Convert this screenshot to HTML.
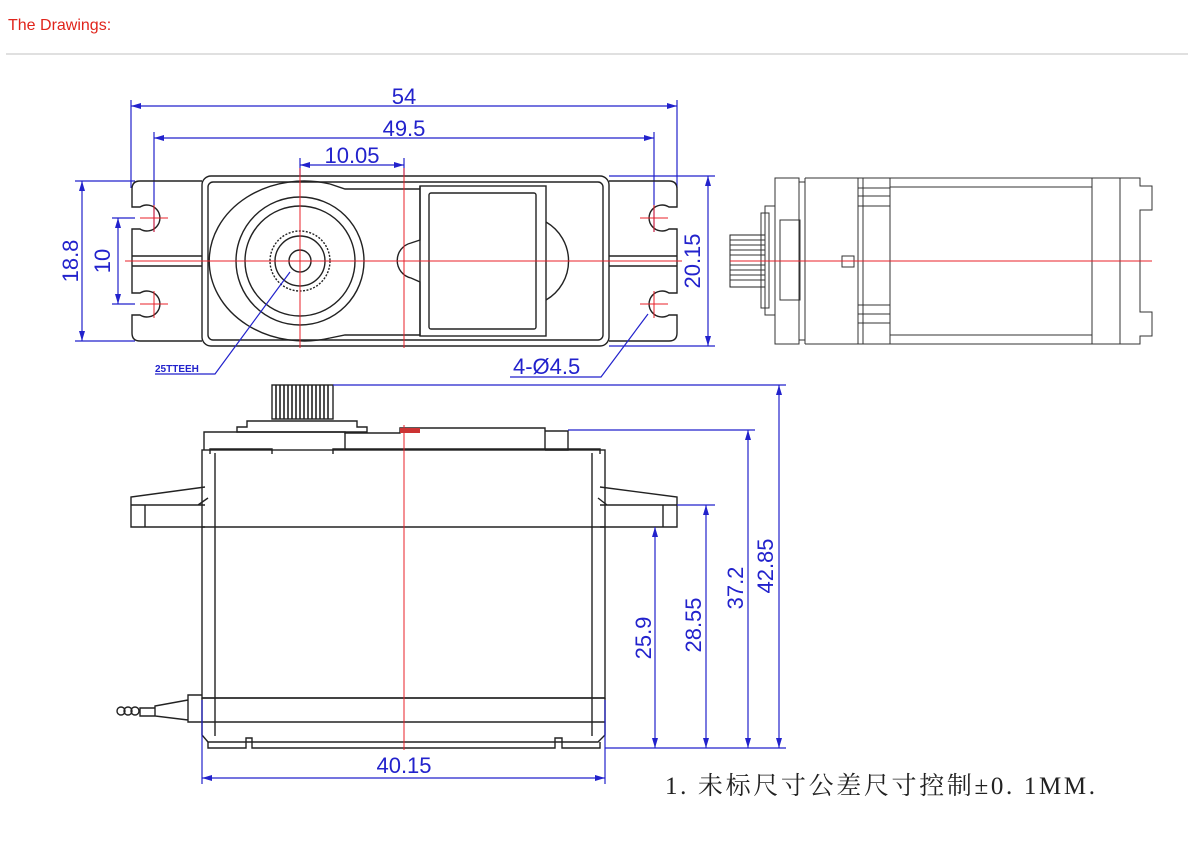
<!DOCTYPE html>
<html><head><meta charset="utf-8"><style>
html,body{margin:0;padding:0;background:#fff;width:1200px;height:846px;overflow:hidden}
svg{position:absolute;left:0;top:0}
.k{fill:none;stroke:#222;stroke-width:1.4}
.kt{fill:none;stroke:#333;stroke-width:1}
.r{fill:none;stroke:#e8202a;stroke-width:1}
.b{fill:none;stroke:#2222cc;stroke-width:1.2}
.bt{fill:#2222cc;font-family:"Liberation Sans",sans-serif;font-size:22px}
</style></head><body>
<svg width="1200" height="846" viewBox="0 0 1200 846">
<defs>
<marker id="a" viewBox="0 0 10 6" refX="10" refY="3" markerWidth="10" markerHeight="6" orient="auto-start-reverse" markerUnits="userSpaceOnUse"><path d="M0,0L10,3L0,6z" fill="#2222cc"/></marker>
</defs>
<text x="8" y="30" fill="#e0241b" font-family="Liberation Sans,sans-serif" font-size="16">The Drawings:</text>
<line x1="6" y1="54" x2="1188" y2="54" stroke="#d6d6d6" stroke-width="1.5"/>

<!-- TOP VIEW dims -->
<line class="b" x1="131" y1="100" x2="131" y2="188"/><line class="b" x1="677" y1="100" x2="677" y2="188"/>
<line class="b" x1="131" y1="106" x2="677" y2="106" marker-start="url(#a)" marker-end="url(#a)"/>
<text class="bt" x="404" y="104" text-anchor="middle">54</text>
<line class="b" x1="154" y1="132" x2="154" y2="232"/><line class="b" x1="654" y1="132" x2="654" y2="232"/>
<line class="b" x1="154" y1="138" x2="654" y2="138" marker-start="url(#a)" marker-end="url(#a)"/>
<text class="bt" x="404" y="136" text-anchor="middle">49.5</text>
<line class="b" x1="300" y1="158" x2="300" y2="176"/><line class="b" x1="404" y1="158" x2="404" y2="176"/>
<line class="b" x1="300" y1="165" x2="404" y2="165" marker-start="url(#a)" marker-end="url(#a)"/>
<text class="bt" x="352" y="163" text-anchor="middle">10.05</text>
<line class="b" x1="75" y1="181" x2="135" y2="181"/><line class="b" x1="75" y1="341" x2="135" y2="341"/>
<line class="b" x1="82" y1="181" x2="82" y2="341" marker-start="url(#a)" marker-end="url(#a)"/>
<text class="bt" transform="translate(78,261) rotate(-90)" text-anchor="middle">18.8</text>
<line class="b" x1="112" y1="218" x2="135" y2="218"/><line class="b" x1="112" y1="304" x2="135" y2="304"/>
<line class="b" x1="118" y1="218" x2="118" y2="304" marker-start="url(#a)" marker-end="url(#a)"/>
<text class="bt" transform="translate(110,261) rotate(-90)" text-anchor="middle" font-size="18">10</text>
<line class="b" x1="609" y1="176" x2="715" y2="176"/><line class="b" x1="609" y1="346" x2="715" y2="346"/>
<line class="b" x1="708" y1="176" x2="708" y2="346" marker-start="url(#a)" marker-end="url(#a)"/>
<text class="bt" transform="translate(700,261) rotate(-90)" text-anchor="middle">20.15</text>

<!-- flanges top view -->
<path class="k" d="M202,181 H140 Q132,181 132,189 V207 H140 A13,13 0 1 1 140,229 H132 V256 H202 M132,256 V266 H202 M132,266 V293 H140 A13,13 0 1 1 140,315 H132 V333 Q132,341 140,341 H202"/>
<path class="k" d="M609,181 H669 Q677,181 677,189 V207 H669 A13,13 0 1 0 669,229 H677 V256 H609 M677,256 V266 H609 M677,266 V293 H669 A13,13 0 1 0 669,315 H677 V333 Q677,341 669,341 H609"/>
<!-- body -->
<rect class="k" x="202" y="176" width="407" height="170" rx="9" stroke-width="2"/>
<rect class="k" x="208" y="182" width="395" height="158" rx="5"/>
<path class="k" stroke-width="1.8" d="M330,184 A95,80 0 1 0 330,338"/>
<path class="k" d="M330,184 L345,189 H420 M330,338 L345,335 H420"/>
<circle class="k" cx="300" cy="261" r="64" stroke-width="1.8"/>
<circle class="k" cx="300" cy="261" r="55" stroke-width="1.8"/>
<circle class="k" cx="300" cy="261" r="30" stroke-width="3" stroke-dasharray="2 1.5"/>
<circle class="k" cx="300" cy="261" r="25"/>
<circle class="k" cx="300" cy="261" r="11"/>
<path class="k" d="M420,186 V240 L411,243 A18,18 0 0 0 411,278 L420,282 V336"/>
<rect class="k" x="420" y="186" width="126" height="150" stroke-width="1.8"/>
<rect class="k" x="429" y="193" width="107" height="136" rx="2"/>
<path class="k" d="M546,222 A45,45 0 0 1 546,300"/>
<!-- red center lines -->
<line class="r" x1="125" y1="261" x2="682" y2="261"/>
<line class="r" x1="300" y1="168" x2="300" y2="348"/>
<line class="r" x1="404" y1="168" x2="404" y2="348"/>
<line class="r" x1="140" y1="218" x2="168" y2="218"/><line class="r" x1="154" y1="205" x2="154" y2="232"/>
<line class="r" x1="140" y1="304" x2="168" y2="304"/><line class="r" x1="154" y1="291" x2="154" y2="318"/>
<line class="r" x1="640" y1="218" x2="668" y2="218"/><line class="r" x1="654" y1="205" x2="654" y2="232"/>
<line class="r" x1="640" y1="304" x2="668" y2="304"/><line class="r" x1="654" y1="291" x2="654" y2="318"/>
<!-- leaders -->
<path class="b" d="M290,272 L215,374 H155"/>
<text x="155" y="372" fill="#2222cc" font-family="Liberation Sans,sans-serif" font-size="10" font-weight="bold">25TTEEH</text>
<path class="b" d="M510,377 H601 L648,314"/>
<text class="bt" x="513" y="374">4-Ø4.5</text>

<!-- SIDE VIEW -->
<g class="kt">
<rect x="730" y="235" width="35" height="52" stroke="#222"/>
<path d="M730,240H765M730,245H765M730,250H765M730,255H765M730,265H765M730,270H765M730,275H765M730,280H765"/>
<rect x="761" y="213" width="8" height="95"/>
<rect x="765" y="206" width="10" height="109"/>
<rect x="775" y="178" width="24" height="166"/>
<rect x="799" y="182" width="6" height="158"/>
<rect x="780" y="220" width="20" height="80"/>
<path d="M805,178 V344 M805,178 H1120 M805,344 H1120"/>
<rect x="858" y="178" width="32" height="166"/>
<path d="M863,178V344M858,188H890M858,196H890M858,206H890M858,305H890M858,314H890M858,323H890 M890,187 H1092 M890,335 H1092"/>
<rect x="842" y="256" width="12" height="11"/>
<rect x="1092" y="178" width="28" height="166"/>
<path d="M1120,178 H1140 V186 H1152 V210 H1140 V216 M1120,344 H1140 V336 H1152 V312 H1140 V306 M1140,216V306"/>
</g>
<line class="r" x1="730" y1="261" x2="1152" y2="261"/>

<!-- FRONT VIEW -->
<g class="k" stroke-width="1.2">
<rect x="272" y="385" width="61" height="34"/>
<path d="M276,385V419M280,385V419M284,385V419M288,385V419M292,385V419M296,385V419M300,385V419M304,385V419M308,385V419M312,385V419M316,385V419M320,385V419M324,385V419M328,385V419" stroke-width="1.6"/>
<path d="M247,421 H357 V427 H367 V432 H237 V427 H247Z"/>
<path d="M204,450 V432 H345 V433 H400 V428 H545 V450"/>
<path d="M345,433 V450 M545,431 H568 V450 H545"/>
<path d="M210,454 V449 H272 V454 M333,454 V449 H600 V454"/>
<rect x="202" y="450" width="403" height="248"/>
<line x1="202" y1="527" x2="605" y2="527"/>
<path d="M215,453 V736 M592,453 V736"/>
<path d="M205,487 L131,497 V527 H205 M145,505 V527 M131,505 H205 M198,505 L208,498"/>
<path d="M600,487 L677,497 V527 H600 M663,505 V527 M677,505 H600 M607,505 L598,498"/>
<path d="M202,698 H605 M202,722 H605 M202,698 V735 L208,742 H598 L605,735 V698"/>
<path d="M208,742 V748 H246 V738 H252 V748 H555 V738 H562 V748 H600 V742"/>
<path d="M202,695 H188 V722 H202 M188,700 L155,706 V716 L188,720 M155,708 H140 V716 H155"/>
<circle cx="121" cy="711" r="4"/><circle cx="128" cy="711" r="4"/><circle cx="135" cy="711" r="4"/>
</g>
<line class="r" x1="404" y1="425" x2="404" y2="750"/>
<path d="M400,428 H420 V433 H400Z" fill="#c33" stroke="none"/>

<!-- front dims -->
<line class="b" x1="202" y1="700" x2="202" y2="784"/><line class="b" x1="605" y1="700" x2="605" y2="784"/>
<line class="b" x1="202" y1="778" x2="605" y2="778" marker-start="url(#a)" marker-end="url(#a)"/>
<text class="bt" x="404" y="773" text-anchor="middle">40.15</text>
<line class="b" x1="605" y1="748" x2="786" y2="748"/>
<line class="b" x1="333" y1="385" x2="786" y2="385"/>
<line class="b" x1="568" y1="430" x2="755" y2="430"/>
<line class="b" x1="677" y1="505" x2="715" y2="505"/>
<line class="b" x1="655" y1="527" x2="655" y2="748" marker-start="url(#a)" marker-end="url(#a)"/>
<line class="b" x1="706" y1="505" x2="706" y2="748" marker-start="url(#a)" marker-end="url(#a)"/>
<line class="b" x1="748" y1="430" x2="748" y2="748" marker-start="url(#a)" marker-end="url(#a)"/>
<line class="b" x1="779" y1="385" x2="779" y2="748" marker-start="url(#a)" marker-end="url(#a)"/>
<text class="bt" transform="translate(651,638) rotate(-90)" text-anchor="middle">25.9</text>
<text class="bt" transform="translate(701,625) rotate(-90)" text-anchor="middle">28.55</text>
<text class="bt" transform="translate(743,588) rotate(-90)" text-anchor="middle">37.2</text>
<text class="bt" transform="translate(773,566) rotate(-90)" text-anchor="middle">42.85</text>

<text x="665" y="794" fill="#222" font-family="Liberation Serif,'Noto Serif CJK SC',serif" font-size="25" textLength="430" lengthAdjust="spacing">1. 未标尺寸公差尺寸控制±0. 1MM.</text>
</svg>
</body></html>
